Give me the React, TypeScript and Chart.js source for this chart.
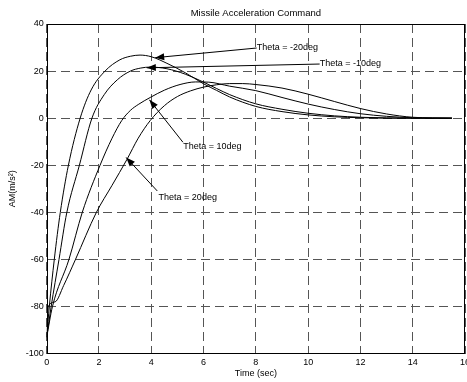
import React, { useEffect, useRef } from "react";
import { Chart, registerables } from "chart.js";

Chart.register(...registerables);

// ---- Data ----
const title = "Missile Acceleration Command";
const xTitle = "Time (sec)";
const yTitle = "AM(m/s²)";

const xMin = 0;
const xMax = 16;
const xStep = 2;
const yMin = -100;
const yMax = 40;
const yStep = 20;

// Theta = -20deg
const tMinus20 = [0, 0.1, 0.29, 0.52, 0.83, 1.28, 1.7, 2.23, 2.8, 3.2, 3.57, 4.0, 4.6, 5.3, 6.0, 6.5, 7.0, 8.0, 9.0, 10.0, 11.0, 12.0, 13.0, 14.0, 15.5];
const aMinus20 = [-93, -80, -60, -40, -20, 0, 12, 20, 24.8, 26.3, 26.8, 26.1, 23.3, 19.3, 14.6, 11.8, 9.0, 5.0, 2.8, 1.4, 0.6, 0.2, 0.05, 0, 0];

// Theta = -10deg
const tMinus10 = [0, 0.17, 0.47, 0.77, 1.25, 1.73, 2.2, 2.7, 3.2, 3.6, 3.96, 4.6, 5.3, 6.0, 6.5, 7.0, 8.0, 9.0, 10.0, 11.0, 12.0, 13.0, 14.0, 15.5];
const aMinus10 = [-93, -80, -60, -40, -20, 0, 10, 16.3, 20, 21.3, 21.7, 21.0, 18.7, 15.3, 12.6, 10.0, 6.1, 3.8, 2.1, 1.0, 0.4, 0.1, 0, 0];

// Theta = 10deg
const tPlus10 = [0, 0.22, 0.85, 1.36, 2.04, 2.5, 2.87, 3.2, 3.5, 3.96, 4.5, 5.1, 5.7, 6.2, 7.0, 8.0, 9.0, 10.0, 11.0, 12.0, 13.0, 14.0, 15.5];
const aPlus10 = [-93, -80, -60, -40, -20, -8.5, -1, 3.3, 5.8, 8.8, 11.9, 14.3, 15.4, 15.3, 13.6, 11.7, 8.8, 6.0, 3.7, 1.9, 0.8, 0.2, 0];

// Theta = 20deg
const tPlus20 = [0, 0.06, 0.32, 0.65, 1.1, 1.9, 2.5, 3.07, 3.5, 3.96, 4.5, 5.0, 5.5, 6.0, 6.5, 7.0, 7.5, 8.0, 9.0, 10.0, 11.0, 12.0, 13.0, 14.0, 15.5];
const aPlus20 = [-92, -80, -78, -71, -60, -40, -28.5, -17.5, -8.5, -1, 5.3, 9.2, 11.6, 13.2, 14.2, 14.7, 14.7, 14.3, 12.8, 10.2, 7.1, 4.1, 1.8, 0.4, 0];

// Annotation labels (text, text anchor in data units, arrow tip in data units)
const annLabels = ["Theta = -20deg", "Theta = -10deg", "Theta = 10deg", "Theta = 20deg"];
const annTextT = [8.03, 10.44, 5.22, 4.28];
const annTextA = [30.0, 23.1, -11.9, -33.6];
const annStartT = [8.03, 10.44, 5.21, 4.23];
const annStartA = [29.8, 23.0, -10.2, -30.9];
const annTipT = [4.15, 3.83, 3.93, 3.04];
const annTipA = [25.7, 21.4, 7.8, -16.7];

const FONT = "'Liberation Sans', Arial, Helvetica, sans-serif";

function toPoints(ts: number[], vs: number[]) {
  return ts.map((t, i) => ({ x: t, y: vs[i] }));
}

const framePlugin = {
  id: "frame",
  afterDraw(chart: any) {
    const { ctx, chartArea } = chart;
    ctx.save();
    ctx.strokeStyle = "#000";
    ctx.lineWidth = 1;
    ctx.setLineDash([]);
    const l = Math.round(chartArea.left) + 0.5;
    const t = Math.round(chartArea.top) + 0.5;
    const r = Math.round(chartArea.right) - 0.5;
    const b = Math.round(chartArea.bottom) - 0.5;
    ctx.strokeRect(l, t, r - l, b - t);
    // title centred over the plot area
    ctx.fillStyle = "#000";
    ctx.font = `9.5px ${FONT}`;
    ctx.textAlign = "center";
    ctx.textBaseline = "middle";
    ctx.fillText(title, (chartArea.left + chartArea.right) / 2, 13);
    ctx.restore();
  },
};

const annotationPlugin = {
  id: "arrows",
  afterDatasetsDraw(chart: any) {
    const { ctx } = chart;
    const xs = chart.scales.x;
    const ys = chart.scales.y;
    ctx.save();
    ctx.strokeStyle = "#000";
    ctx.fillStyle = "#000";
    ctx.lineWidth = 1;
    ctx.setLineDash([]);
    ctx.font = `9px ${FONT}`;
    ctx.textAlign = "left";
    ctx.textBaseline = "middle";
    for (let i = 0; i < annLabels.length; i++) {
      const sx = xs.getPixelForValue(annStartT[i]);
      const sy = ys.getPixelForValue(annStartA[i]);
      const tx = xs.getPixelForValue(annTipT[i]);
      const ty = ys.getPixelForValue(annTipA[i]);
      ctx.beginPath();
      ctx.moveTo(sx, sy);
      ctx.lineTo(tx, ty);
      ctx.stroke();
      const ang = Math.atan2(ty - sy, tx - sx);
      const len = 9;
      const half = 3.5;
      const bx = tx - len * Math.cos(ang);
      const by = ty - len * Math.sin(ang);
      ctx.beginPath();
      ctx.moveTo(tx, ty);
      ctx.lineTo(bx + half * Math.sin(ang), by - half * Math.cos(ang));
      ctx.lineTo(bx - half * Math.sin(ang), by + half * Math.cos(ang));
      ctx.closePath();
      ctx.fill();
      ctx.fillText(annLabels[i], xs.getPixelForValue(annTextT[i]), ys.getPixelForValue(annTextA[i]));
    }
    ctx.restore();
  },
};

export default function App() {
  const ref = useRef<HTMLCanvasElement>(null);
  useEffect(() => {
    const series = [
      [tMinus20, aMinus20],
      [tMinus10, aMinus10],
      [tPlus10, aPlus10],
      [tPlus20, aPlus20],
    ];
    const chart = new Chart(ref.current as HTMLCanvasElement, {
      type: "line",
      data: {
        datasets: series.map(([t, a], i) => ({
          label: annLabels[i],
          data: toPoints(t as number[], a as number[]),
          borderColor: "#000",
          borderWidth: 1,
          pointRadius: 0,
          fill: false,
          cubicInterpolationMode: "monotone" as const,
        })),
      },
      options: {
        responsive: false,
        animation: false,
        devicePixelRatio: 1,
        parsing: false as any,
        layout: { padding: { left: 0, right: 2, top: 24, bottom: 0 } },
        plugins: {
          legend: { display: false },
          tooltip: { enabled: false },
          title: { display: false },
        },
        scales: {
          x: {
            type: "linear",
            min: xMin,
            max: xMax,
            ticks: { stepSize: xStep, color: "#000", font: { family: FONT, size: 9 }, padding: 3, maxRotation: 0, autoSkip: false },
            grid: { color: "#555", lineWidth: 1, drawTicks: false },
            border: { display: false, dash: [9, 5] },
            title: { display: true, text: xTitle, color: "#000", font: { family: FONT, size: 9 }, padding: { top: 0, bottom: 3.3 } },
            afterFit: (s: any) => {
              s.height = 28.3;
              s.paddingLeft = 0;
              s.paddingRight = 0;
            },
          },
          y: {
            type: "linear",
            min: yMin,
            max: yMax,
            ticks: { stepSize: yStep, color: "#000", font: { family: FONT, size: 9 }, padding: 3 },
            grid: { color: "#555", lineWidth: 1, drawTicks: false },
            border: { display: false, dash: [9, 5] },
            title: { display: true, text: yTitle, color: "#000", font: { family: FONT, size: 9 }, padding: { top: 7.6, bottom: 0 } },
            afterFit: (s: any) => {
              s.width = 46.7;
              s.paddingTop = 0;
              s.paddingBottom = 0;
            },
          },
        },
      },
      plugins: [framePlugin, annotationPlugin],
    });
    return () => chart.destroy();
  }, []);
  return (
    <div style={{ position: "fixed", left: 0, top: 0, width: 467, height: 382, background: "#fff" }}>
      <canvas ref={ref} width={467} height={382} style={{ display: "block", width: 467, height: 382 }} />
    </div>
  );
}
